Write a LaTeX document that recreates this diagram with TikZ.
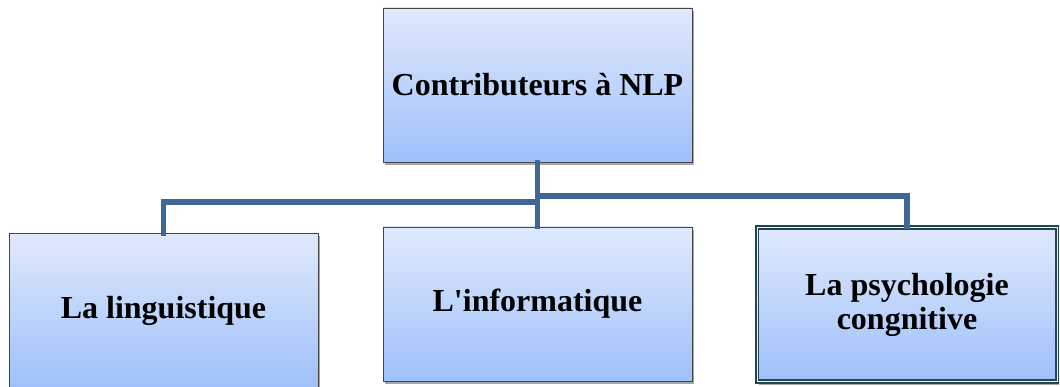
\documentclass[tikz,border=0pt]{standalone}
\usepackage{fontspec}
\setmainfont{Liberation Serif}[Ligatures=TeXOff]
\usetikzlibrary{shadows}
\definecolor{boxtop}{RGB}{224,233,252}
\definecolor{boxbot}{RGB}{158,192,250}
\definecolor{conn}{RGB}{62,104,152}
\definecolor{edge}{RGB}{70,70,70}
\definecolor{dedge}{RGB}{35,70,80}
\tikzset{
  box/.style={rectangle, draw=edge, line width=0.8pt, top color=boxtop, bottom color=boxbot,
    minimum width=309pt, minimum height=154pt, inner sep=0pt, align=center,
    font=\fontsize{32}{34}\selectfont\bfseries,
    drop shadow={shadow xshift=2pt, shadow yshift=-3pt, opacity=0.35, fill=black}},
  dbox/.style={box, draw=dedge, line width=2pt, double=boxtop!60!white, double distance=0.6pt},
  conline/.style={draw=conn, line width=5.5pt, line cap=rect}
}
\begin{document}
\begin{tikzpicture}[x=1pt,y=-1pt]
\useasboundingbox (0,0) rectangle (1060,387);
\node[box] (top) at (537.5,85) {Contributeurs à NLP};
\node[box] (lin) at (163.5,310.5) {La linguistique};
\node[box] (inf) at (537.5,304) {L'informatique};
\node[dbox, minimum width=300pt, minimum height=154pt] (psy) at (907,304.5) {La psychologie\\congnitive};
\coordinate (jl) at (537.5,202);
\coordinate (jr) at (537.5,196);
\draw[conline] (top.south) -- (jl) -| (lin.north);
\draw[conline] (top.south) -- (jr) -| (psy.north);
\draw[conline] (top.south) -- (inf.north);
\end{tikzpicture}
\end{document}
